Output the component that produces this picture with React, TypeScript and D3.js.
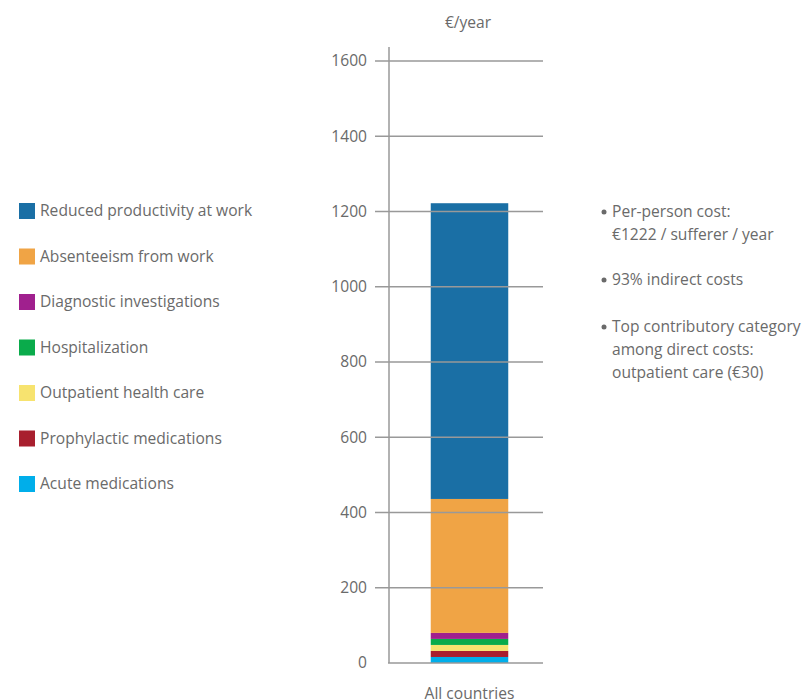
import React from "react";
import * as d3 from "d3";

const categories = ["All countries"];
const seriesNames = [
  "Acute medications",
  "Prophylactic medications",
  "Outpatient health care",
  "Hospitalization",
  "Diagnostic investigations",
  "Absenteeism from work",
  "Reduced productivity at work",
];
const seriesValues = [16, 16, 16, 16, 16, 356, 786];
const seriesColors = ["#00aeea", "#a81f2e", "#f7e36f", "#0aab4b", "#a0208e", "#f0a445", "#1a6fa5"];
const yTicks = [0, 200, 400, 600, 800, 1000, 1200, 1400, 1600];
const notes = [
  ["Per-person cost:", "€1222 / sufferer / year"],
  ["93% indirect costs"],
  ["Top contributory category", "among direct costs:", "outpatient care (€30)"],
];

export default function App() {
  const W = 811, H = 699;
  const font = "'Open Sans', Lato, sans-serif";
  const fs = 15.6;
  const y = d3.scaleLinear().domain([0, 1600]).range([663, 61]);
  const x = d3.scaleBand().domain(categories).range([392, 547]).paddingInner(0).paddingOuter(0.5);
  const stack = d3.stack<any>().keys(seriesNames)([
    Object.fromEntries(seriesNames.map((n, i) => [n, seriesValues[i]])),
  ]);
  const legendOrder = [...seriesNames].reverse();
  const textColor = "#6a6a6a";
  return (
    <svg width={W} height={H} style={{ position: "absolute", left: 0, top: 0, fontFamily: font }}>
      <text x={468} y={23} dy="0.35em" fontSize={fs} fill={textColor} textAnchor="middle">€/year</text>
      {stack.map((s, i) => (
        <rect key={s.key} x={x(categories[0])} width={x.bandwidth()}
          y={y(s[0][1])} height={y(s[0][0]) - y(s[0][1])} fill={seriesColors[i]} />
      ))}
      {yTicks.map((t) => (
        <g key={t}>
          {t > 0 && <line x1={375} x2={543} y1={y(t)} y2={y(t)} stroke="#999" strokeWidth={1.5} />}
          <text x={367} y={y(t)} dy="0.35em" fontSize={fs} fill={textColor} textAnchor="end">{t}</text>
        </g>
      ))}
      <line x1={389} x2={389} y1={47} y2={663} stroke="#999" strokeWidth={1.5} />
      <line x1={388} x2={543} y1={663} y2={663} stroke="#999" strokeWidth={1.5} />
      <text x={x(categories[0])! + x.bandwidth() / 2} y={699} fontSize={fs} fill={textColor} textAnchor="middle">
        {categories[0]}
      </text>
      {legendOrder.map((n, i) => {
        const cy = 211 + i * 45.5;
        const c = seriesColors[seriesNames.indexOf(n)];
        return (
          <g key={n}>
            <rect x={19} y={cy - 8} width={16} height={16} fill={c} />
            <text x={40} y={cy} dy="0.35em" fontSize={fs} fill={textColor}>{n}</text>
          </g>
        );
      })}
      {(() => {
        const starts = [212, 280, 327];
        return notes.map((lines, i) => (
          <g key={i}>
            <circle cx={604} cy={starts[i]} r={2.5} fill={textColor} />
            {lines.map((l, j) => (
              <text key={j} x={612} y={starts[i] + j * 23} dy="0.35em" fontSize={fs} fill={textColor}>{l}</text>
            ))}
          </g>
        ));
      })()}
    </svg>
  );
}
